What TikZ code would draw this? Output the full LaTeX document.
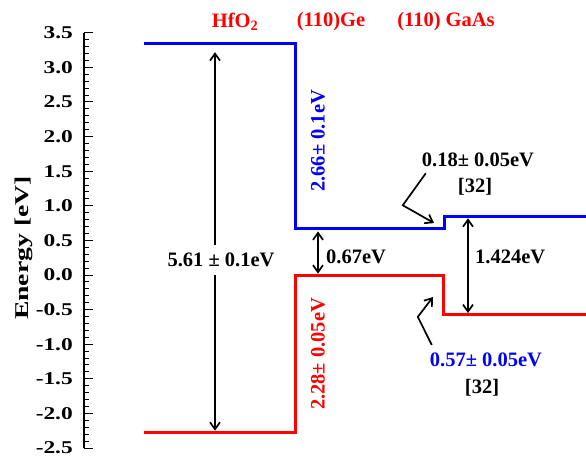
\documentclass[tikz,border=0pt]{standalone}
\usepackage{fontspec}
\usepackage{graphicx}
\setmainfont{Liberation Serif}
\usetikzlibrary{arrows.meta}
\definecolor{bandblue}{HTML}{0000FF}
\definecolor{bandred}{HTML}{FF0000}

\begin{document}
\begin{tikzpicture}[
    x=1pt, y=69.2pt,
    every node/.style={font=\bfseries\fontsize{20.5}{22}\selectfont, inner sep=1pt},
    >={Straight Barb[length=7pt, width=10pt]},
    band/.style={draw=#1, line width=3pt},
    gaparrow/.style={->, line width=1.7pt},
    valtext/.style={text=#1},
    ticklabel/.style={anchor=east, inner sep=0pt, font=\bfseries\fontsize{18}{20}\selectfont},
]

% Frame
\useasboundingbox (0,-2.630) rectangle (586,3.974);

% Energy axis
\draw[line width=1.5pt] (84,-2.5) -- (84,3.5);
\foreach \i in {-25,...,35}
    \draw[line width=1pt] (84,\i/10) -- ++(5,0);
\foreach \v [count=\k] in {3.5,3.0,2.5,2.0,1.5,1.0,0.5,0.0,-0.5,-1.0,-1.5,-2.0,-2.5} {
    \draw[line width=1pt] (84,\v) -- ++(9,0);
    \node[ticklabel] (tick\k) at (73,\v) {\scalebox{1.3}[1]{\v}};
}
\node[rotate=90, font=\bfseries\fontsize{19.5}{21}\selectfont] (axistitle) at (24,0.39) {\scalebox{1.42}[1]{Energy [eV]}};

% Materials
\node[valtext=bandred] (hfo) at (235,3.66) {HfO\textsubscript{2}};
\node[valtext=bandred] (ge) at (331,3.66) {(110)Ge};
\node[valtext=bandred] (gaas) at (446,3.66) {(110) GaAs};

% Conduction band
\draw[band=bandblue] (144,3.34) -| (295,0.67) -| (444,0.85) -- (586,0.85);
% Valence band
\draw[band=bandred] (144,-2.28) -| (295,0) -| (443,-0.57) -- (586,-0.57);

\coordinate (hfcb) at (215,3.22);
\coordinate (hfvb) at (215,-2.25);
\coordinate (gecb) at (318,0.63);
\coordinate (gevb) at (318,0.02);
\coordinate (gaascb) at (468,0.82);
\coordinate (gaasvb) at (468,-0.55);
\coordinate (cbstep) at (434,0.751);
\coordinate (vbstep) at (433,-0.318);

% Band gaps
\node[inner ysep=8pt] (hfgap) at (221,0.22) {5.61 ± 0.1eV};
\draw[gaparrow] (hfgap.north -| hfcb) -- (hfcb);
\draw[gaparrow] (hfgap.south -| hfvb) -- (hfvb);

\draw[gaparrow, <->] (gecb) -- (gevb);
\node[anchor=west] (gegap) at (325,0.26) {0.67eV};

\draw[gaparrow, <->] (gaascb) -- (gaasvb);
\node[anchor=west] (gaasgap) at (474,0.26) {1.424eV};

% Offsets
\node[valtext=bandblue, rotate=90] (cboffset) at (318,1.94) {2.66± 0.1eV};
\node[valtext=bandred, rotate=90] (vboffset) at (318,-1.14) {2.28± 0.05eV};

\node (cbnote) at (478,1.66) {0.18± 0.05eV};
\node (cbref) at (475,1.27) {[32]};
\draw[gaparrow] ([xshift=5pt,yshift=-5pt]cbnote.south west) -- ++(-23,-0.462) -- (cbstep);

\node[valtext=bandblue] (vbnote) at (486,-1.23) {0.57± 0.05eV};
\node (vbref) at (482,-1.63) {[32]};
\draw[gaparrow] ([xshift=3pt,yshift=7pt]vbnote.north west) -- ++(-14,0.405) -- (vbstep);

\end{tikzpicture}
\end{document}
